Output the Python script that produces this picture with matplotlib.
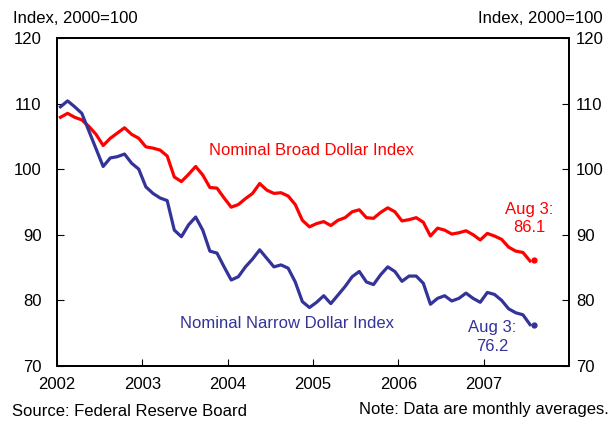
import numpy as np
import matplotlib
matplotlib.use("Agg")
import matplotlib.pyplot as plt

plt.rcParams['font.family'] = ['Liberation Sans', 'DejaVu Sans']
plt.rcParams['font.size'] = 12

# monthly averages, Jan 2002 - Jul 2007 (index, 2000=100)
broad = [107.9, 108.5, 107.9, 107.5, 106.5, 105.3, 103.6, 104.7, 105.5, 106.3, 105.3, 104.7,
         103.4, 103.2, 102.9, 102.0, 98.8, 98.1, 99.2, 100.4, 99.1, 97.2, 97.1, 95.6,
         94.2, 94.6, 95.5, 96.3, 97.8, 96.8, 96.3, 96.4, 95.9, 94.6, 92.2, 91.2,
         91.7, 92.0, 91.4, 92.2, 92.6, 93.5, 93.8, 92.6, 92.5, 93.4, 94.1, 93.5,
         92.1, 92.3, 92.6, 91.9, 89.8, 91.0, 90.7, 90.1, 90.3, 90.6, 90.0, 89.2,
         90.2, 89.8, 89.3, 88.1, 87.5, 87.3, 86.0]
narrow = [109.5, 110.4, 109.5, 108.5, 105.8, 103.1, 100.4, 101.7, 101.9, 102.3, 100.9, 100.0,
          97.3, 96.3, 95.6, 95.2, 90.7, 89.7, 91.5, 92.7, 90.7, 87.5, 87.2, 85.1,
          83.1, 83.6, 85.1, 86.3, 87.7, 86.4, 85.1, 85.4, 84.9, 82.8, 79.8, 78.9,
          79.7, 80.7, 79.5, 80.8, 82.1, 83.6, 84.4, 82.8, 82.4, 83.9, 85.1, 84.4,
          82.9, 83.7, 83.7, 82.6, 79.4, 80.3, 80.7, 79.9, 80.3, 81.1, 80.3, 79.7,
          81.2, 80.9, 80.0, 78.7, 78.1, 77.8, 76.3]
# daily value on Aug 3, 2007
last_date = 2007 + 215 / 365
broad_last = 86.1
narrow_last = 76.2

years = [2002, 2003, 2004, 2005, 2006, 2007]
dates = 2002 + (np.arange(len(broad)) + 0.5) / 12

red = '#ff0000'
blue = '#333399'

fig = plt.figure(figsize=(6.12, 4.26), dpi=100)
ax = fig.add_axes([0.093, 0.141, 0.837, 0.770])

ax.plot(dates, broad, color=red, lw=2.3)
ax.plot(dates, narrow, color=blue, lw=2.3)
ax.plot([last_date], [broad_last], 'o', color=red, ms=3.5)
ax.plot([last_date], [narrow_last], 'o', color=blue, ms=3.5)

ax.set_xlim(2002, 2008)
ax.set_ylim(70, 120)
ax.set_xticks(years)
ax.set_xticklabels([str(y) for y in years])
ax.set_yticks([70, 80, 90, 100, 110, 120])
ax.tick_params(axis='y', direction='in', length=5, pad=11)
ax.tick_params(axis='x', direction='in', length=5, pad=8)

ax2 = ax.twinx()
ax2.set_ylim(70, 120)
ax2.set_yticks([70, 80, 90, 100, 110, 120])
ax2.tick_params(axis='y', direction='in', length=5, pad=5)

for a in (ax, ax2):
    for s in a.spines.values():
        s.set_linewidth(1.3)

ax.text(2004.98, 102.9, 'Nominal Broad Dollar Index', color=red, ha='center', va='center')
ax.text(2004.70, 76.4, 'Nominal Narrow Dollar Index', color=blue, ha='center', va='center')
ax.text(2007.53, 92.5, 'Aug 3:\n86.1', color=red, ha='center', va='center', linespacing=1.3)
ax.text(2007.1, 74.4, 'Aug 3:\n76.2', color=blue, ha='center', va='center', linespacing=1.3)

fig.text(0.022, 0.957, 'Index, 2000=100', ha='left', va='center')
fig.text(0.984, 0.957, 'Index, 2000=100', ha='right', va='center')
fig.text(0.02, 0.033, 'Source: Federal Reserve Board', ha='left', va='center')
fig.text(0.994, 0.038, 'Note: Data are monthly averages.', ha='right', va='center')

fig.savefig('out.png', dpi=100)
